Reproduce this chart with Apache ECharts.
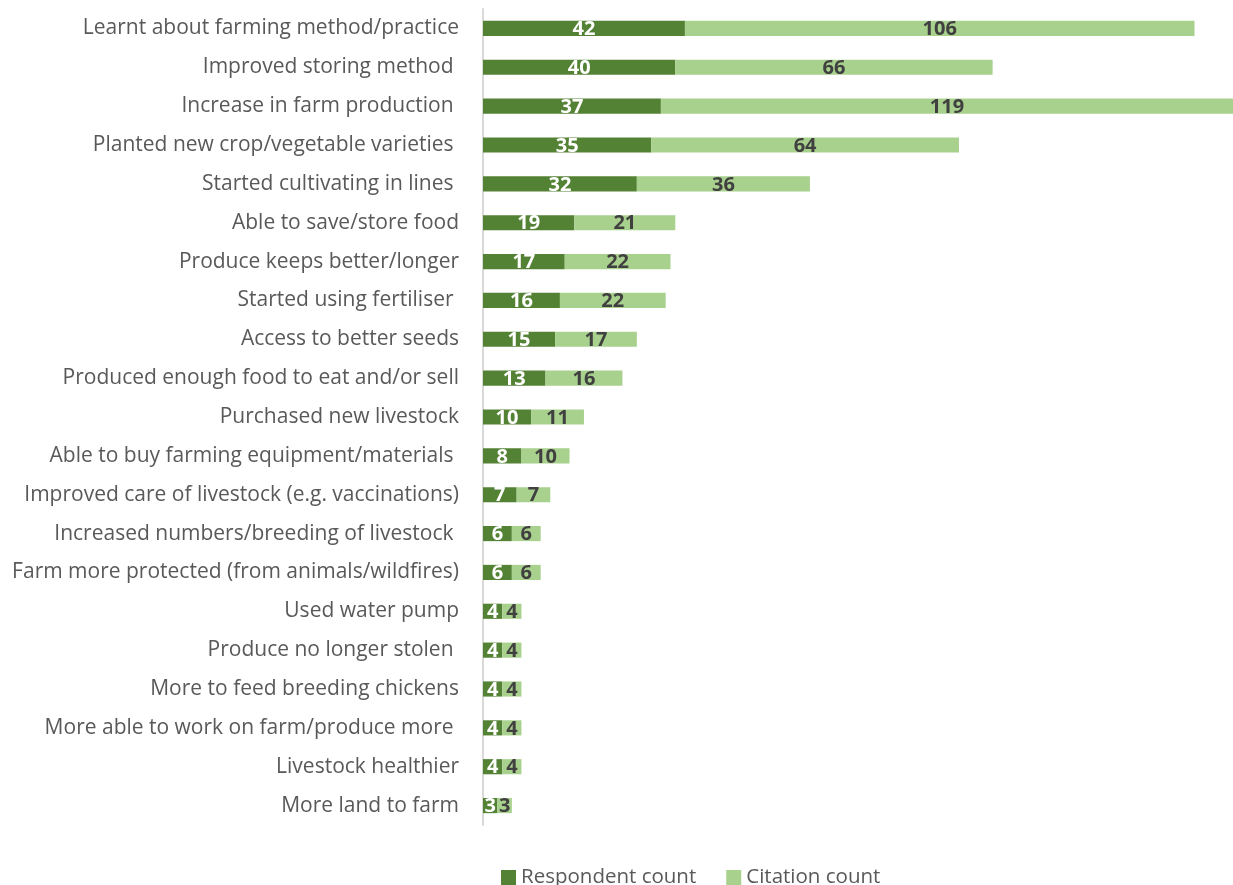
<!DOCTYPE html>
<html>
<head>
<meta charset="utf-8">
<script src="https://cdn.jsdelivr.net/npm/echarts@6/dist/echarts.min.js"></script>
<style>
  html, body { margin: 0; padding: 0; background: #ffffff; }
  #chart { width: 1233px; height: 885px; }
</style>
</head>
<body>
<div id="chart"></div>
<script>
// Reported outcomes, listed top to bottom
const categories = [
  'Learnt about farming method/practice',
  'Improved storing method ',
  'Increase in farm production ',
  'Planted new crop/vegetable varieties ',
  'Started cultivating in lines ',
  'Able to save/store food',
  'Produce keeps better/longer',
  'Started using fertiliser ',
  'Access to better seeds',
  'Produced enough food to eat and/or sell',
  'Purchased new livestock',
  'Able to buy farming equipment/materials ',
  'Improved care of livestock (e.g. vaccinations)',
  'Increased numbers/breeding of livestock ',
  'Farm more protected (from animals/wildfires)',
  'Used water pump',
  'Produce no longer stolen ',
  'More to feed breeding chickens',
  'More able to work on farm/produce more ',
  'Livestock healthier',
  'More land to farm'
];
const respondentCount = [42, 40, 37, 35, 32, 19, 17, 16, 15, 13, 10, 8, 7, 6, 6, 4, 4, 4, 4, 4, 3];
const citationCount  = [106, 66, 119, 64, 36, 21, 22, 22, 17, 16, 11, 10, 7, 6, 6, 4, 4, 4, 4, 4, 3];

const FONT = '"Open Sans", sans-serif';

const chart = echarts.init(document.getElementById('chart'), null, { renderer: 'canvas' });
chart.setOption({
  animation: false,
  backgroundColor: '#ffffff',
  textStyle: { fontFamily: FONT },
  legend: {
    top: 862,
    left: 496,
    itemWidth: 15,
    itemHeight: 15,
    itemGap: 30,
    icon: 'rect',
    textStyle: { fontSize: 20.5, color: '#595959', fontFamily: FONT },
    data: ['Respondent count', 'Citation count']
  },
  grid: { left: 483, right: 0, top: 9, bottom: 60, containLabel: false },
  xAxis: {
    type: 'value',
    min: 0,
    max: 156,
    show: false,
    splitLine: { show: false }
  },
  yAxis: {
    type: 'category',
    inverse: true,
    data: categories,
    axisLine: { show: true, lineStyle: { color: '#d9d9d9', width: 2 } },
    axisTick: { show: false },
    axisLabel: {
      fontSize: 21,
      color: '#595959',
      margin: 24,
      fontFamily: FONT,
      padding: [3, 0, 0, 0]
    }
  },
  series: [
    {
      name: 'Respondent count',
      type: 'bar',
      stack: 'total',
      data: respondentCount,
      barWidth: '39%',
      itemStyle: { color: '#548235' },
      label: {
        show: true,
        position: 'inside',
        color: '#ffffff',
        fontWeight: 'bold',
        fontSize: 20,
        fontFamily: FONT,
        offset: [0, 1]
      }
    },
    {
      name: 'Citation count',
      type: 'bar',
      stack: 'total',
      data: citationCount,
      barWidth: '39%',
      itemStyle: { color: '#a9d18e' },
      label: {
        show: true,
        position: 'inside',
        color: '#404040',
        fontWeight: 'bold',
        fontSize: 20,
        fontFamily: FONT,
        offset: [0, 1]
      }
    }
  ]
});
</script>
</body>
</html>
